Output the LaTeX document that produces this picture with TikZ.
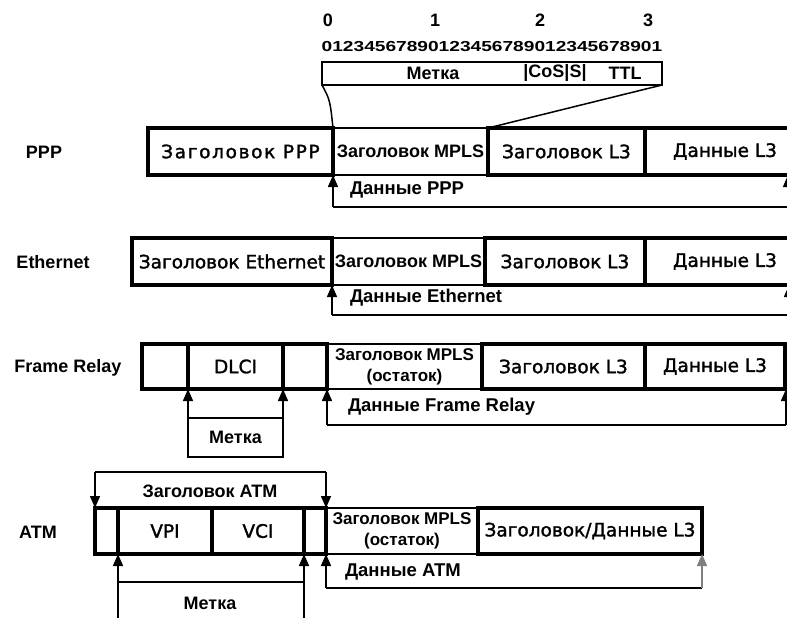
\documentclass[tikz,border=0pt]{standalone}
\usepackage{fontspec}
\setmainfont{Liberation Sans}
\newfontfamily\boxfont[FakeBold=1.6]{DejaVu Sans}
\usetikzlibrary{arrows.meta}
\begin{document}
\begin{tikzpicture}[x=1pt,y=-1pt,
  every node/.style={inner sep=0pt, outer sep=0pt},
  cell/.style={draw, line width=3.3pt, anchor=north west, align=center,
    font=\boxfont\fontsize{18.5}{20}\selectfont},
  mpls/.style={draw, line width=1.5pt, anchor=north west, align=center,
    font=\bfseries\fontsize{18}{20}\selectfont},
  tag/.style={draw, line width=1.5pt, anchor=north west,
    font=\bfseries\fontsize{18}{20}\selectfont},
  lbl/.style={font=\bfseries\fontsize{18}{20}\selectfont},
  note/.style={font=\bfseries\fontsize{18.5}{20}\selectfont, anchor=west},
  bit/.style={font=\bfseries\fontsize{18}{20}\selectfont},
  link/.style={line width=1.5pt},
  up/.style={line width=1.5pt, -{Triangle[length=12pt,width=10pt]}},
]
\useasboundingbox (0,0) rectangle (787,618);

% ---------- MPLS shim header with bit numbering ----------
\node[bit] (b0) at (328,20) {0};
\node[bit] (b1) at (435,20) {1};
\node[bit] (b2) at (540,20) {2};
\node[bit] (b3) at (648,20) {3};
\node[font=\bfseries\fontsize{14.5}{16}\selectfont] (bits) at (492,47)
  {\scalebox{1.32}[1]{01234567890123456789012345678901}};
\node[draw, line width=1.6pt, anchor=north west, minimum width=340pt,
  minimum height=23pt] (shim) at (322,62) {};
\node[lbl] (sLabel) at (433,73) {Метка};
\node[lbl] (sCos) at (555,73) {|CoS|S|};
\node[lbl] (sTtl) at (625,73) {TTL};

% ---------- PPP ----------
\node[lbl] (lPPP) at (44,152) {PPP};
\node[mpls, minimum width=155pt, minimum height=47pt] (pppM) at (333,128) {Заголовок MPLS};
\node[cell, minimum width=185pt, minimum height=47pt,
  font=\boxfont\addfontfeatures{LetterSpace=9}\fontsize{18.5}{20}\selectfont] (pppH) at (148,128) {Заголовок PPP};
\node[cell, minimum width=157pt, minimum height=47pt] (pppL) at (488,128) {Заголовок L3};
\node[cell, minimum width=160pt, minimum height=47pt] (pppD) at (645,128) {Данные L3};
\coordinate (pppA) at (333,207);
\coordinate (pppB) at (788,207);
\draw[up] (pppA) -- (pppM.south west);
\draw[link] (pppA) -- (pppB);
\draw[up] (pppB) -- (788,175);
\node[note] (pppN) at (350,190) {Данные PPP};

\draw[link] (shim.south west) .. controls (330,100) .. (pppM.north west);
\draw[link] (shim.south east) -- (pppM.north east);

% ---------- Ethernet ----------
\node[lbl] (lEth) at (53,262) {Ethernet};
\node[mpls, minimum width=153pt, minimum height=47pt] (ethM) at (332,238) {Заголовок MPLS};
\node[cell, minimum width=200pt, minimum height=47pt] (ethH) at (132,238) {Заголовок Ethernet};
\node[cell, minimum width=160pt, minimum height=47pt] (ethL) at (485,238) {Заголовок L3};
\node[cell, minimum width=160pt, minimum height=47pt] (ethD) at (645,238) {Данные L3};
\coordinate (ethA) at (332,315);
\coordinate (ethB) at (789,315);
\draw[up] (ethA) -- (ethM.south west);
\draw[link] (ethA) -- (ethB);
\draw[up] (ethB) -- (789,285);
\node[note] (ethN) at (350,298) {Данные Ethernet};

% ---------- Frame Relay ----------
\node[lbl] (lFR) at (68,368) {Frame Relay};
\node[mpls, minimum width=155pt, minimum height=45pt,
  font=\bfseries\fontsize{17}{21}\selectfont] (frM) at (327,344) {Заголовок MPLS\\(остаток)};
\node[cell, minimum width=46pt, minimum height=45pt] (fr1) at (142,344) {};
\node[cell, minimum width=95pt, minimum height=45pt] (fr2) at (188,344) {DLCI};
\node[cell, minimum width=44pt, minimum height=45pt] (fr3) at (283,344) {};
\node[cell, minimum width=163pt, minimum height=45pt] (frL) at (482,344) {Заголовок L3};
\node[cell, minimum width=140pt, minimum height=45pt] (frD) at (645,344) {Данные L3};
\node[tag, minimum width=95pt, minimum height=39pt] (frTag) at (188,418) {Метка};
\draw[up] (frTag.north west) -- (fr2.south west);
\draw[up] (frTag.north east) -- (fr2.south east);
\coordinate (frA) at (327,425);
\coordinate (frB) at (786,425);
\draw[up] (frA) -- (frM.south west);
\draw[link] (frA) -- (frB);
\draw[up] (frB) -- (786,389);
\node[note] (frN) at (348,407) {Данные Frame Relay};

% ---------- ATM ----------
\node[lbl] (lATM) at (38,532) {ATM};
\node[mpls, minimum width=152pt, minimum height=46pt,
  font=\bfseries\fontsize{17}{21}\selectfont] (atmM) at (326,508) {Заголовок MPLS\\(остаток)};
\node[cell, minimum width=23pt, minimum height=46pt] (atm1) at (95,508) {};
\node[cell, minimum width=94pt, minimum height=46pt] (atm2) at (118,508) {VPI};
\node[cell, minimum width=92pt, minimum height=46pt] (atm3) at (212,508) {VCI};
\node[cell, minimum width=22pt, minimum height=46pt] (atm4) at (304,508) {};
\node[cell, minimum width=224pt, minimum height=46pt] (atmL) at (478,508) {Заголовок/Данные L3};
% ATM header span
\coordinate (atmHa) at (95,472);
\coordinate (atmHb) at (326,472);
\draw[link] (atmHa) -- (atmHb);
\draw[up] (atmHa) -- (atm1.north west);
\draw[up] (atmHb) -- (atm4.north east);
\node[lbl] (atmHN) at (210,491) {Заголовок ATM};
% label span (VPI + VCI)
\node[tag, minimum width=186pt, minimum height=50pt] (atmTag) at (118,582) {};
\node[lbl] (atmTagN) at (210,603) {Метка};
\draw[up] (atmTag.north west) -- (atm2.south west);
\draw[up] (atmTag.north east) -- (atm3.south east);
% ATM payload span
\coordinate (atmA) at (326,588);
\coordinate (atmB) at (702,588);
\draw[up] (atmA) -- (atmM.south west);
\draw[link] (atmA) -- (atmB);
\draw[up, gray] (atmB) -- (atmL.south east);
\node[note] (atmN) at (345,572) {Данные ATM};
\end{tikzpicture}
\end{document}
